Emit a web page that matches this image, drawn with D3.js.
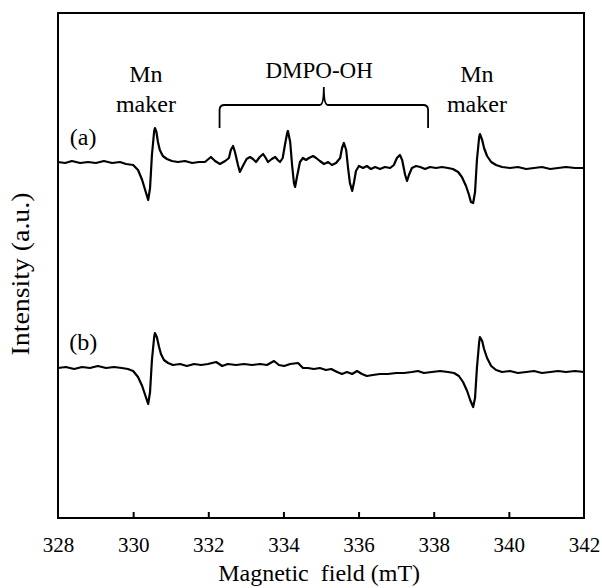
<!DOCTYPE html>
<html>
<head>
<meta charset="utf-8">
<script src="https://cdn.jsdelivr.net/npm/d3@7"></script>
<style>
  body { margin: 0; background: #fff; }
</style>
</head>
<body>
<div id="chart"></div>
<script>
// EPR spectra (field in mT, signal in a.u. relative to each trace baseline)
const fieldA = [328.00, 328.19, 328.37, 328.59, 328.80, 329.01, 329.22, 329.44, 329.65, 329.81, 330.00, 330.13, 330.24, 330.32, 330.40, 330.45, 330.50, 330.56, 330.58, 330.62, 330.66, 330.71, 330.79, 330.90, 331.03, 331.19, 331.38, 331.57, 331.75, 331.91, 332.07, 332.18, 332.31, 332.45, 332.55, 332.60, 332.66, 332.71, 332.79, 332.84, 332.92, 333.02, 333.11, 333.19, 333.27, 333.37, 333.46, 333.53, 333.59, 333.69, 333.78, 333.85, 333.91, 333.98, 334.04, 334.10, 334.12, 334.18, 334.23, 334.28, 334.31, 334.36, 334.44, 334.52, 334.60, 334.68, 334.79, 334.87, 334.97, 335.08, 335.19, 335.29, 335.40, 335.51, 335.56, 335.61, 335.67, 335.72, 335.77, 335.83, 335.88, 335.93, 336.01, 336.12, 336.22, 336.33, 336.44, 336.57, 336.70, 336.84, 336.94, 337.02, 337.10, 337.16, 337.24, 337.29, 337.34, 337.42, 337.53, 337.64, 337.77, 337.90, 338.06, 338.22, 338.38, 338.51, 338.65, 338.75, 338.86, 338.94, 338.99, 339.05, 339.10, 339.15, 339.21, 339.23, 339.29, 339.34, 339.42, 339.53, 339.66, 339.82, 340.03, 340.24, 340.46, 340.67, 340.88, 341.10, 341.31, 341.52, 341.76, 342.00];
const signalA = [0.2, 0, 0.4, 0, 0.2, 0, 0.4, 0, 0.2, -0.2, -0.4, -1.4, -3.4, -5.4, -7.4, -5.0, 1.6, 6.4, 7.0, 6.2, 4.2, 2.6, 1.4, 0.8, 0.4, 0.2, 0.4, 0, 0.2, 0.2, 1.2, 0.4, -0.2, 0.4, 1.0, 2.6, 3.4, 2.2, -0.4, -1.8, -0.6, 0.8, 1.2, 0.8, 0.2, 1.2, 1.8, 1.0, 0.2, 0.8, 1.2, 0.6, 0.2, 1.0, 3.6, 6.0, 6.4, 4.2, -0.4, -4.0, -4.8, -2.8, 0.2, 1.0, 0.6, 1.0, 1.4, 1.0, 0.4, -0.2, 0.2, -0.4, 0, 1.0, 3.0, 4.0, 2.6, -1.0, -4.0, -5.6, -3.8, -1.6, -0.6, -1.0, -0.6, -1.2, -0.8, -1.2, -0.8, -1.0, -0.4, 1.0, 1.6, 0.6, -2.4, -3.6, -2.4, -1.0, -0.6, -0.8, -1.2, -0.8, -1.0, -0.8, -1.0, -1.2, -1.8, -2.8, -4.6, -6.4, -7.8, -8.0, -5.8, 0.6, 5.2, 5.8, 4.6, 3.0, 1.4, 0.2, -0.4, -0.8, -1.0, -0.8, -1.2, -1.0, -0.8, -1.2, -1.0, -0.8, -1.0, -1.0];

const fieldB = [328.00, 328.21, 328.43, 328.64, 328.85, 329.06, 329.28, 329.49, 329.70, 329.86, 330.00, 330.13, 330.24, 330.32, 330.40, 330.45, 330.50, 330.56, 330.58, 330.63, 330.69, 330.74, 330.82, 330.93, 331.06, 331.25, 331.43, 331.62, 331.81, 331.99, 332.21, 332.37, 332.52, 332.74, 332.95, 333.16, 333.38, 333.56, 333.75, 333.88, 334.02, 334.18, 334.39, 334.52, 334.65, 334.81, 334.97, 335.13, 335.27, 335.43, 335.56, 335.69, 335.83, 335.96, 336.09, 336.22, 336.38, 336.57, 336.78, 337.00, 337.21, 337.42, 337.58, 337.74, 337.95, 338.17, 338.38, 338.54, 338.67, 338.78, 338.89, 338.97, 339.05, 339.10, 339.15, 339.21, 339.23, 339.29, 339.34, 339.42, 339.53, 339.66, 339.82, 340.03, 340.24, 340.46, 340.67, 340.88, 341.10, 341.31, 341.52, 341.76, 342.00];
const signalB = [0, 0.2, -0.2, 0.2, 0, 0.4, 0, 0.2, 0, -0.2, -0.6, -1.8, -3.6, -5.4, -7.2, -4.8, 1.6, 6.2, 7.0, 6.2, 4.2, 2.8, 1.6, 1.0, 0.6, 0.8, 0.4, 0.8, 0.6, 0.8, 1.2, 0.4, 0.8, 0.6, 0.8, 0.6, 0.8, 0.6, 1.4, 0.6, 0.4, 0.8, 1.0, 0, 0, -0.2, 0, -0.4, -0.2, -0.8, -1.2, -0.8, -1.2, -0.6, -1.2, -1.6, -1.4, -1.2, -1.2, -1.0, -1.0, -0.8, -0.6, -1.0, -0.8, -0.6, -0.8, -1.0, -1.6, -2.8, -4.6, -6.4, -7.8, -6.0, 0, 5.2, 6.2, 5.4, 3.8, 2.0, 0.4, -0.4, -0.8, -0.6, -1.0, -0.8, -0.6, -1.0, -0.8, -0.6, -0.8, -0.6, -0.8];

const traceNames = ['(a)', '(b)'];
const traceOffsets = [71, 30];           // vertical offset of each trace, a.u.
const xTicks = [328, 330, 332, 334, 336, 338, 340, 342];
const mnFields = [330.34, 339.15];       // Mn marker positions
const dmpoRange = [332.3, 337.85];       // span of the DMPO-OH brace

const font = 'Liberation Serif';
const w = 602, h = 588;
const m = { top: 13, right: 18, bottom: 70, left: 58 };

const svg = d3.select('#chart').append('svg')
  .attr('width', w)
  .attr('height', h)
  .style('display', 'block');

const x = d3.scaleLinear().domain([328, 342]).range([m.left, w - m.right]);
const y = d3.scaleLinear().domain([0, 101]).range([h - m.bottom, m.top]);

// x axis with inward ticks
const xAxis = d3.axisBottom(x)
  .tickValues(xTicks)
  .tickSizeInner(-6)
  .tickSizeOuter(0)
  .tickPadding(19)
  .tickFormat(d3.format('d'));

const gx = svg.append('g')
  .attr('transform', 'translate(0,' + (h - m.bottom) + ')')
  .call(xAxis)
  .attr('font-family', font)
  .attr('font-size', 21);
gx.select('.domain').remove();
gx.selectAll('.tick line').attr('stroke', '#000').attr('stroke-width', 2)
  .filter(d => d === 328 || d === 342).remove();
gx.selectAll('.tick text').attr('fill', '#000');

// plot frame
svg.append('rect')
  .attr('x', m.left)
  .attr('y', m.top)
  .attr('width', w - m.left - m.right)
  .attr('height', h - m.top - m.bottom)
  .attr('fill', 'none')
  .attr('stroke', '#000')
  .attr('stroke-width', 2);

// spectra
const traces = [
  fieldA.map((f, i) => [f, signalA[i]]),
  fieldB.map((f, i) => [f, signalB[i]])
];

const label = (xp, yp, size) => svg.append('text')
  .attr('x', xp)
  .attr('y', yp)
  .attr('text-anchor', 'middle')
  .attr('font-family', font)
  .attr('font-size', size);

traces.forEach((pts, k) => {
  const line = d3.line()
    .x(d => x(d[0]))
    .y(d => y(d[1] + traceOffsets[k]));
  svg.append('path')
    .datum(pts)
    .attr('d', line)
    .attr('fill', 'none')
    .attr('stroke', '#000')
    .attr('stroke-width', 2.2)
    .attr('stroke-linejoin', 'round');

  label(x(328.67), k === 0 ? 145 : 350, 24).text(traceNames[k]);
});

// Mn marker labels
mnFields.forEach(f => {
  label(x(f), 82, 24).text('Mn');
  label(x(f), 112, 24).text('maker');
});

// DMPO-OH brace
const x1 = x(dmpoRange[0]), x2 = x(dmpoRange[1]), xm = (x1 + x2) / 2;
const yb = 105, ye = 128, yt = 87;
const brace = d3.path();
brace.moveTo(x1, ye);
brace.lineTo(x1, yb + 5);
brace.quadraticCurveTo(x1, yb, x1 + 5, yb);
brace.lineTo(xm - 4, yb);
brace.quadraticCurveTo(xm, yb, xm, yt);
brace.quadraticCurveTo(xm, yb, xm + 4, yb);
brace.lineTo(x2 - 5, yb);
brace.quadraticCurveTo(x2, yb, x2, yb + 5);
brace.lineTo(x2, ye);

svg.append('path')
  .attr('d', brace.toString())
  .attr('fill', 'none')
  .attr('stroke', '#000')
  .attr('stroke-width', 1.8);

label(x(334.95), 78, 23).text('DMPO-OH');

// axis titles
label(x(334.95), 581, 24).text('Magnetic\u00a0 field (mT)');

label(0, 0, 25)
  .attr('transform', 'translate(29,274) rotate(-90)')
  .attr('textLength', 163)
  .attr('lengthAdjust', 'spacingAndGlyphs')
  .text('Intensity (a.u.)');
</script>
</body>
</html>
